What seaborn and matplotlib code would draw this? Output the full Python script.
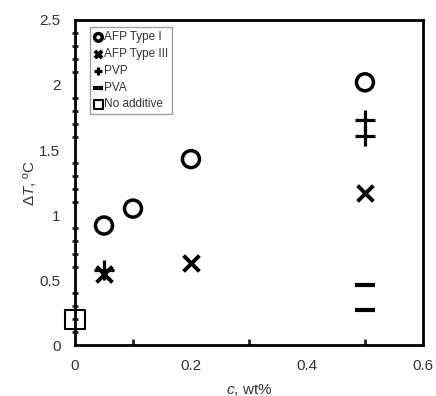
import matplotlib
matplotlib.use("Agg")
import matplotlib.pyplot as plt
import seaborn as sns
from matplotlib.ticker import MultipleLocator

sns.set_style("white")
plt.rcParams["font.family"] = ["Liberation Sans", "DejaVu Sans"]
plt.rcParams["mathtext.fontset"] = "custom"
plt.rcParams["mathtext.it"] = "Liberation Sans:italic"
plt.rcParams["mathtext.rm"] = "Liberation Sans"

# data
afp1_c = [0.05, 0.1, 0.2, 0.5]
afp1_dt = [0.92, 1.05, 1.43, 2.02]
afp3_c = [0.05, 0.2, 0.5]
afp3_dt = [0.55, 0.63, 1.17]
pvp_c = [0.05, 0.5, 0.5]
pvp_dt = [0.58, 1.73, 1.61]
pva_c = [0.5, 0.5]
pva_dt = [0.46, 0.27]
none_c = [0.0]
none_dt = [0.2]

x_ticks = [0, 0.2, 0.4, 0.6]
x_labels = ["0", "0.2", "0.4", "0.6"]
y_ticks = [0, 0.5, 1, 1.5, 2, 2.5]
y_labels = ["0", "0.5", "1", "1.5", "2", "2.5"]

fig, ax = plt.subplots(figsize=(4.36, 3.96), dpi=100)

sns.scatterplot(x=afp1_c, y=afp1_dt, marker="o", s=150, facecolors="none",
                edgecolors="black", linewidths=2.5, label="AFP Type I", ax=ax)
sns.scatterplot(x=afp3_c, y=afp3_dt, marker="x", s=130, color="black",
                linewidths=2.8, label="AFP Type III", ax=ax)
sns.scatterplot(x=pvp_c, y=pvp_dt, marker="+", s=190, color="black",
                linewidths=2.3, label="PVP", ax=ax)
sns.scatterplot(x=pva_c, y=pva_dt, marker="_", s=220, color="black",
                linewidths=3, label="PVA", ax=ax)
sns.scatterplot(x=none_c, y=none_dt, marker="s", s=190, facecolors="none",
                edgecolors="black", linewidths=1.5, label="No additive", ax=ax,
                clip_on=False, zorder=5)

ax.set_xlim(0, 0.6)
ax.set_ylim(0, 2.5)
ax.set_xticks(x_ticks, x_labels)
ax.set_yticks(y_ticks, y_labels)
ax.xaxis.set_minor_locator(MultipleLocator(0.1))
ax.yaxis.set_minor_locator(MultipleLocator(0.1))
ax.tick_params(axis="both", which="major", direction="in", length=4, width=2,
               labelsize=11, colors="black", labelcolor="#333333")
ax.tick_params(axis="y", which="minor", direction="inout", length=4, width=2, left=True)
ax.tick_params(axis="x", which="minor", direction="in", length=4, width=2, bottom=True)
ax.tick_params(axis="y", which="major", direction="inout", length=5, pad=8)
ax.tick_params(axis="x", pad=10)
for s in ax.spines.values():
    s.set_linewidth(2)
    s.set_color("black")

ax.set_xlabel(r"$c$, wt%", fontsize=11, labelpad=6, color="#333333")
ax.set_ylabel(r"$\mathit{\Delta T}$, ºC", fontsize=11, labelpad=1, color="#333333")

leg = ax.legend(loc="upper left", fontsize=8.5, markerscale=0.45, frameon=True,
                fancybox=False, edgecolor="#888888", handletextpad=0.05,
                handlelength=0.8, borderpad=0.35, labelspacing=0.4,
                bbox_to_anchor=(0.025, 0.995))
leg.get_frame().set_linewidth(1)
for t in leg.get_texts():
    t.set_color("#333333")

fig.subplots_adjust(left=0.172, right=0.97, top=0.95, bottom=0.128)
fig.savefig("out.png", dpi=100)
